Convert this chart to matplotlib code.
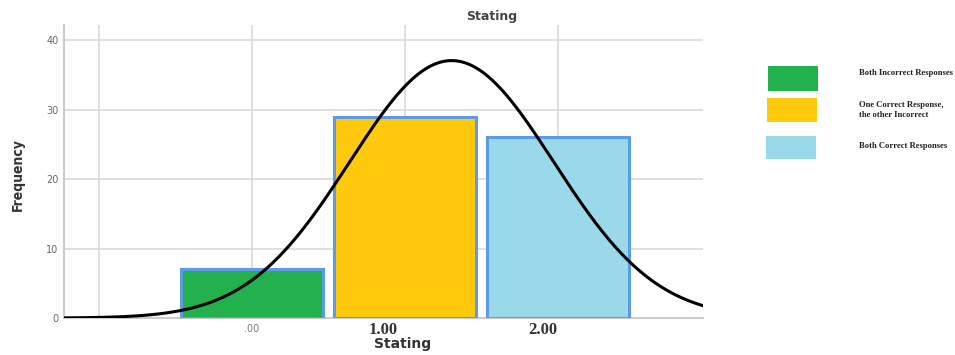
import numpy as np
import matplotlib.pyplot as plt
import matplotlib.patches as mpatches
import matplotlib.transforms as mtransforms

# Data
categories = ['Both Incorrect Responses', 'One Correct Response,\nthe other Incorrect', 'Both Correct Responses']
scores = [0, 1, 2]
counts = [7, 29, 26]
bar_colors = ['#22b14c', '#ffc90e', '#99d9ea']
tick_labels = ['.00', '1.00', '2.00']

fig = plt.figure(figsize=(9.55, 3.55), dpi=100)
ax = fig.add_axes([0.067, 0.104, 0.669, 0.826])

ax.bar(scores, counts, width=0.93, color=bar_colors, edgecolor='#5b9be8',
       linewidth=2.2, zorder=3)

# fitted normal curve (SPSS style)
vals = np.repeat(scores, counts)
mu = vals.mean()
sd = vals.std(ddof=1)
xs = np.linspace(-1.25, 2.95, 400)
ys = len(vals) * 1.0 / (sd * np.sqrt(2 * np.pi)) * np.exp(-0.5 * ((xs - mu) / sd) ** 2)
ax.plot(xs, ys, color='black', lw=2.2, zorder=4)

ax.set_xlim(-1.23, 2.95)
ax.set_ylim(0, 42.2)
ax.set_yticks([0, 10, 20, 30, 40])
ax.set_xticks([-1, 0, 1, 2])
ax.set_xticklabels(['', tick_labels[0], tick_labels[1], tick_labels[2]])
ax.grid(True, color='#d9d9d9', lw=1.2, zorder=0)
for s in ['top', 'right']:
    ax.spines[s].set_visible(False)
for s in ['left', 'bottom']:
    ax.spines[s].set_color('#cccccc')
    ax.spines[s].set_linewidth(1.5)
ax.tick_params(length=0, labelsize=7, colors='#666666', pad=4)

# tick label styling
labs = ax.get_xticklabels()
labs[1].set_color('#777777')
labs[1].set_fontsize(7)
for lab, dx in zip(labs[2:], [-22, -15]):
    lab.set_fontfamily('Liberation Serif')
    lab.set_fontweight('bold')
    lab.set_fontsize(12)
    lab.set_color('#333333')
    lab.set_transform(lab.get_transform() + mtransforms.ScaledTranslation(dx / 100, 0.02, fig.dpi_scale_trans))

ax.set_ylabel('Frequency', fontsize=10, fontweight='bold', color='#333333', fontstretch='condensed')
ax.yaxis.set_label_coords(-0.061, 0.49)
fig.text(0.422, 0.02, 'Stating', fontsize=10, fontweight='bold', color='#333333', ha='center')
fig.text(0.515, 0.945, 'Stating', fontsize=9, fontweight='bold', color='#444444', ha='center')

# legend
leg_boxes = [(768, 66, 50, 25), (767, 98, 50, 24), (766, 136, 50, 23)]
leg_text_y = [73, 110, 146]
for (x, y, w, h), c, lab, ty in zip(leg_boxes, bar_colors, categories, leg_text_y):
    fig.patches.append(mpatches.Rectangle((x / 955, 1 - (y + h) / 355), w / 955, h / 355,
                                          transform=fig.transFigure, facecolor=c,
                                          edgecolor='none'))
    fig.text(859 / 955, 1 - ty / 355, lab, fontsize=6.2, fontfamily='Liberation Serif',
             fontweight='bold', color='#222222', va='center', ha='left', linespacing=1.3)

fig.savefig('out.png', dpi=100)
